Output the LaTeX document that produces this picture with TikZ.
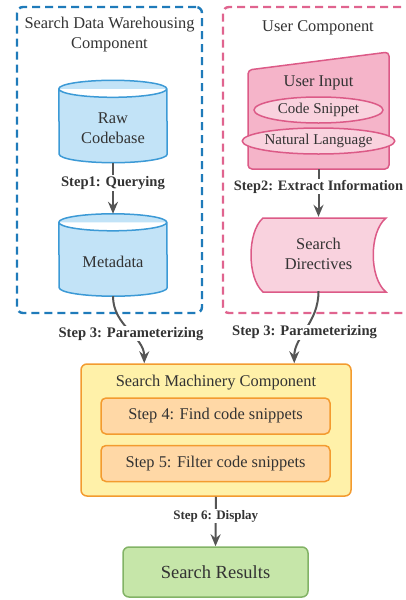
\documentclass[tikz,border=0pt]{standalone}
\usepackage{fontspec}
\setmainfont{Liberation Serif}
\usetikzlibrary{shapes.geometric,arrows.meta,backgrounds}
\definecolor{txc}{HTML}{333333}
\definecolor{lnc}{HTML}{555555}
\definecolor{bdc}{HTML}{1F7BBA}
\definecolor{bfc}{HTML}{C2E3F7}
\definecolor{blc}{HTML}{3C9AD6}
\definecolor{pdc}{HTML}{E0648F}
\definecolor{pfc}{HTML}{F5B4C9}
\definecolor{plc}{HTML}{DC5A87}
\definecolor{pec}{HTML}{F9D2DE}
\definecolor{yfc}{HTML}{FFF1A9}
\definecolor{ylc}{HTML}{F39B2F}
\definecolor{ofc}{HTML}{FFD8A6}
\definecolor{gfc}{HTML}{C6E6A9}
\definecolor{glc}{HTML}{82B366}

\begin{document}
\begin{tikzpicture}[x=1pt, y=-1pt, text=txc, font=\fontsize{16.4}{20}\selectfont,
    group/.style={rectangle, draw, line width=2.4pt, rounded corners=6pt, dash pattern=on 8pt off 5pt},
    dbbox/.style={minimum width=108pt, minimum height=82pt, inner sep=0pt, label={[align=center, yshift=-6.5pt]center:#1}},
    dbfill/.style={draw=blc, fill=bfc, line width=1.5pt},
    pill/.style={ellipse, draw=plc, fill=pec, line width=1.5pt, minimum width=129pt, minimum height=26pt, inner sep=0pt, font=\fontsize{15}{18}\selectfont},
    stepbox/.style={rectangle, rounded corners=5pt, draw=ylc, fill=ofc, line width=1.5pt, minimum width=229pt, minimum height=36pt},
    steplabel/.style={fill=white, inner sep=1pt, font=\bfseries\fontsize{14.6}{17}\selectfont},
    flow/.style={draw=lnc, line width=2pt, -{Stealth[length=12pt, width=10pt, inset=4pt]}}]

    \useasboundingbox (0,0) rectangle (406,600);
    \clip (0,0) rectangle (406,600);

    % warehousing side
    \node[group, draw=bdc, minimum width=185pt, minimum height=306pt] (dwh) at (109.5,160) {};
    \node[align=center] (dwhtitle) at (109.5,35) {Search Data Warehousing\\Component};
    \node[dbbox={Raw\\Codebase}] (raw) at (113,121.5) {};
    \node[dbbox=Metadata, below of=raw, node distance=133.5pt] (meta) {};
    \begin{scope}[on background layer]
      \foreach \db in {raw,meta}
        \draw[dbfill] ([yshift=-8.5pt]\db.north west) arc[start angle=180, end angle=0, x radius=54pt, y radius=8.5pt]
          -- ([yshift=8.5pt]\db.south east) arc[start angle=0, end angle=-180, x radius=54pt, y radius=8.5pt] -- cycle
          ([yshift=-8.5pt]\db.north west) arc[start angle=180, end angle=360, x radius=54pt, y radius=8.5pt];
    \end{scope}

    % user side
    \node[group, draw=pdc, minimum width=197pt, minimum height=306pt] (usr) at (321.5,160) {};
    \node (usrtitle) at (318,28) {User Component};
    \draw[draw=plc, fill=pfc, line width=1.5pt, rounded corners=4pt] (248,70) -- (389,52) -- (389,169) -- (248,169) -- cycle;
    \node[minimum width=141pt, minimum height=99pt, inner sep=0pt] (uin) at (318.5,119.5) {};
    \node (uintitle) at (318.5,83) {User Input};
    \node[pill] (code) at (318.5,110) {Code Snippet};
    \node[pill] (natural) at (318.5,141) {Natural Language};
    \draw[draw=plc, fill=pec, line width=1.5pt] (263,218) -- (386,218)
        .. controls (369,232) and (369,278) .. (386,292) -- (263,292)
        .. controls (247,278) and (247,232) .. cycle;
    \node[minimum width=135pt, minimum height=74pt, inner sep=0pt, align=center] (dirs) at (318.5,254) {Search\\Directives};

    % machinery
    \node[rectangle, rounded corners=6pt, draw=ylc, fill=yfc, line width=1.5pt, minimum width=270pt, minimum height=132pt] (smc) at (216,430) {};
    \node (smctitle) at (216,383) {Search Machinery Component};
    \node[stepbox] (find) at (215.5,416) {Step 4: Find code snippets};
    \node[stepbox] (filter) at (215.5,463.5) {Step 5: Filter code snippets};
    \node[rectangle, rounded corners=6pt, draw=glc, fill=gfc, line width=1.5pt, minimum width=185pt, minimum height=50pt, font=\fontsize{18.5}{22}\selectfont] (res) at (215.5,572) {Search Results};

    \draw[flow] (raw.south) -- node[steplabel, pos=0.4] {Step1: Querying} (meta.north);
    \draw[flow] (uin.south) -- node[steplabel, pos=0.37, font=\bfseries\fontsize{14.4}{17}\selectfont] {Step2: Extract Information} (dirs.north);
    \draw[flow] (meta.south) .. controls +(0,30) and +(0,-27) .. node[steplabel, pos=0.55] {Step 3: Parameterizing} ([xshift=64pt]smc.north west);
    \draw[flow] (dirs.south) .. controls +(0,32) and +(0,-27) .. node[steplabel, pos=0.55] {Step 3: Parameterizing} ([xshift=214pt]smc.north west);
    \draw[flow] (smc.south) -- node[steplabel, pos=0.39, font=\bfseries\fontsize{13}{15}\selectfont] {Step 6: Display} (res.north);

  \end{tikzpicture}
\end{document}
